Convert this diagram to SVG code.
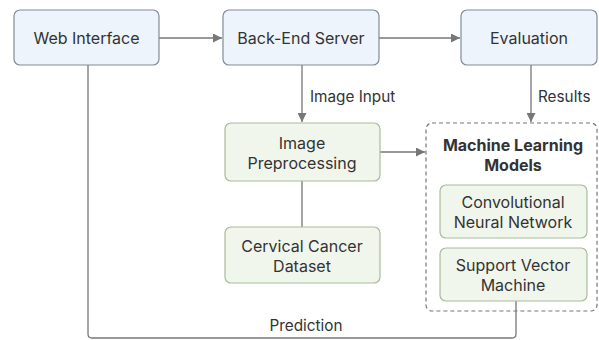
<svg xmlns="http://www.w3.org/2000/svg" width="599" height="340" viewBox="0 0 599 340">
<defs>
<style>
.blue{fill:#eef4fc;stroke:#7f8c99;stroke-width:1.2}
.green{fill:#f1f6ec;stroke:#a8bb9c;stroke-width:1.2}
.t{font-family:Inter,"Liberation Sans",sans-serif;font-size:16px;fill:#333;text-anchor:middle}
.lbl{font-family:Inter,"Liberation Sans",sans-serif;font-size:15.3px;fill:#333}
.b{font-weight:bold}
.c{fill:none;stroke:#777;stroke-width:1.3}
</style>
<marker id="ah" viewBox="0 0 10 10" refX="10" refY="5" markerWidth="9" markerHeight="9" orient="auto" markerUnits="userSpaceOnUse">
<path d="M0,0 L10,5 L0,10 z" fill="#777"/>
</marker>
</defs>
<rect width="599" height="340" fill="#ffffff"/>
<g id="connectors">
<line class="c" x1="159" y1="38" x2="222" y2="38" marker-end="url(#ah)"/>
<line class="c" x1="379" y1="38" x2="460" y2="38" marker-end="url(#ah)"/>
<line class="c" x1="302" y1="65" x2="302" y2="122" marker-end="url(#ah)"/>
<line class="c" x1="531" y1="65" x2="531" y2="122" marker-end="url(#ah)"/>
<line class="c" x1="380" y1="152" x2="425" y2="152" marker-end="url(#ah)"/>
<line class="c" x1="302" y1="181" x2="302" y2="227"/>
<path class="c" d="M516,301 V334 Q516,338 512,338 H92 Q88,338 88,334 V65"/>
<text class="lbl" x="310" y="102">Image Input</text>
<text class="lbl" x="538" y="102">Results</text>
<text class="lbl" x="306" y="331" text-anchor="middle">Prediction</text>
</g>
<g id="web-interface">
<rect class="blue" x="14" y="10" width="145" height="55" rx="6"/>
<text class="t" x="86.5" y="44">Web Interface</text>
</g>
<g id="back-end-server">
<rect class="blue" x="223" y="10" width="156" height="55" rx="6"/>
<text class="t" x="301" y="44">Back-End Server</text>
</g>
<g id="evaluation">
<rect class="blue" x="461" y="10" width="136" height="55" rx="6"/>
<text class="t" x="529" y="44">Evaluation</text>
</g>
<g id="image-preprocessing">
<rect class="green" x="225" y="123" width="155" height="58" rx="6"/>
<text class="t" x="302" y="149">Image</text>
<text class="t" x="302" y="169">Preprocessing</text>
</g>
<g id="cervical-cancer-dataset">
<rect class="green" x="225" y="227" width="155" height="56" rx="6"/>
<text class="t" x="302" y="252">Cervical Cancer</text>
<text class="t" x="302" y="272">Dataset</text>
</g>
<g id="ml-models">
<rect x="426" y="123" width="171" height="188" rx="6" fill="none" stroke="#777" stroke-width="1.2" stroke-dasharray="4,3"/>
<text class="t b" x="513" y="151">Machine Learning</text>
<text class="t b" x="513" y="171">Models</text>
</g>
<g id="cnn">
<rect class="green" x="440" y="185" width="147" height="53" rx="6"/>
<text class="t" x="513" y="208">Convolutional</text>
<text class="t" x="513" y="228">Neural Network</text>
</g>
<g id="svm">
<rect class="green" x="440" y="248" width="147" height="53" rx="6"/>
<text class="t" x="513" y="271">Support Vector</text>
<text class="t" x="513" y="291">Machine</text>
</g>
</svg>
